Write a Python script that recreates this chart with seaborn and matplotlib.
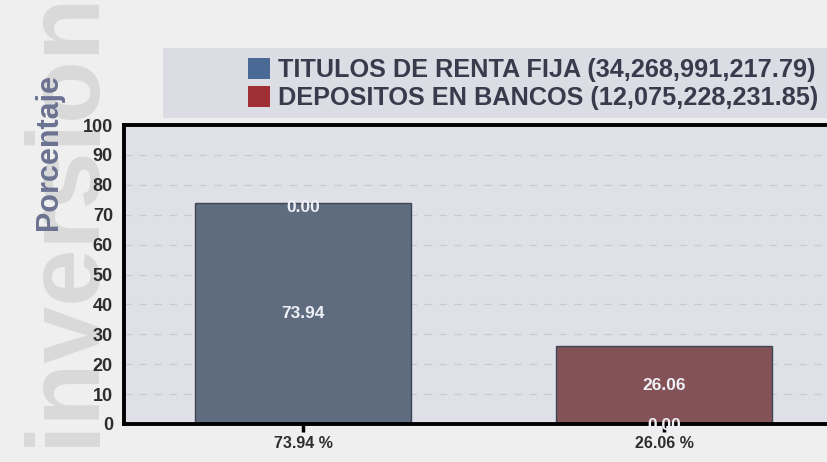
import matplotlib
matplotlib.use("Agg")
import matplotlib.pyplot as plt
import seaborn as sns
import pandas as pd
from matplotlib.patches import Rectangle, Patch

# ---- data ----
categories = ["73.94 %", "26.06 %"]
series_names = ["TITULOS DE RENTA FIJA", "DEPOSITOS EN BANCOS"]
series_amounts = ["34,268,991,217.79", "12,075,228,231.85"]
titulos_values = [73.94, 0.00]
depositos_values = [0.00, 26.06]
y_ticks = [0, 10, 20, 30, 40, 50, 60, 70, 80, 90, 100]

bar_colors = ["#5a6b84", "#8a4a50"]
legend_colors = ["#4a6a96", "#a03036"]

sns.set_theme(style="white")
plt.rcParams["font.family"] = ["Liberation Sans", "DejaVu Sans"]

df = pd.DataFrame({
    "cat": categories * 2,
    "series": [series_names[0]] * 2 + [series_names[1]] * 2,
    "value": titulos_values + depositos_values,
})

fig = plt.figure(figsize=(8.28, 4.62), dpi=100, facecolor="#efefef")

# watermark
fig.text(93 / 828, 16 / 462, "inversion", rotation=90, rotation_mode="anchor",
         ha="left", va="baseline", fontsize=74, fontweight="bold",
         color="#d9d9d9", zorder=-2)
# y label
fig.text(49 / 828, 1 - 152 / 462, "Porcentaje", rotation=90, ha="center", va="center",
         fontsize=22, fontweight="bold", color="#6c7392", zorder=-1)

# legend background
fig.patches.append(Rectangle((163 / 828, 1 - 118 / 462), 1.0, 70 / 462,
                             transform=fig.transFigure, facecolor="#dcdce4",
                             edgecolor="none", zorder=-3))

ax = fig.add_axes([124 / 828, 38 / 462, (843 - 124) / 828, 299 / 462])
ax.set_facecolor("#e0e0e8")

sns.barplot(data=df, x="cat", y="value", hue="series", dodge=False,
            palette=bar_colors, width=0.6, edgecolor="#3c4656", linewidth=1.0,
            ax=ax, legend=False, zorder=3)

ax.set_ylim(0, 100)
ax.set_xlim(-0.496, 1.496)
ax.set_yticks(y_ticks)
ax.set_yticklabels([str(t) for t in y_ticks], fontsize=13, fontweight="bold", color="#2e2e2e")
ax.set_xticklabels(categories, fontsize=11.5, fontweight="bold", color="#2e2e2e")
ax.set_xlabel("")
ax.set_ylabel("")
ax.tick_params(axis="y", length=0, pad=8)
ax.tick_params(axis="x", length=6, width=2.5, color="black", pad=3, direction="out", bottom=True)
ax.yaxis.grid(True, linestyle=(0, (6, 6)), color="#c9c9d2", linewidth=0.9, zorder=1)
ax.set_axisbelow(True)
for side in ["left", "top", "bottom", "right"]:
    ax.spines[side].set_color("black")
    ax.spines[side].set_linewidth(2.8)
    ax.spines[side].set_zorder(5)

# value labels (stacked segments)
for i in range(len(categories)):
    bottom = 0.0
    for vals in (titulos_values, depositos_values):
        v = vals[i]
        if v > 0:
            y, z = bottom + v / 2.0, 4
        elif bottom > 0:
            y, z = bottom - 1.5, 4
        else:
            y, z = bottom - 0.6, 6
        ax.text(i, y, f"{v:.2f}",
                ha="center", va="center", fontsize=12.5, fontweight="bold",
                color="#eef0f6", zorder=z, clip_on=False)
        bottom += v

# legend
handles = [Patch(facecolor=c, edgecolor="none") for c in legend_colors]
labels = [f"{n} ({a})" for n, a in zip(series_names, series_amounts)]
leg = fig.legend(handles, labels, loc="upper left", bbox_to_anchor=(245 / 828, 1 - 55 / 462),
                 frameon=False, fontsize=18.2, handlelength=0.9, handleheight=0.9,
                 handletextpad=0.3, labelspacing=0.15, borderaxespad=0, borderpad=0.1)
for t in leg.get_texts():
    t.set_fontweight("bold")
    t.set_color("#3a3a4c")

fig.savefig("out.png", dpi=100, facecolor=fig.get_facecolor())
